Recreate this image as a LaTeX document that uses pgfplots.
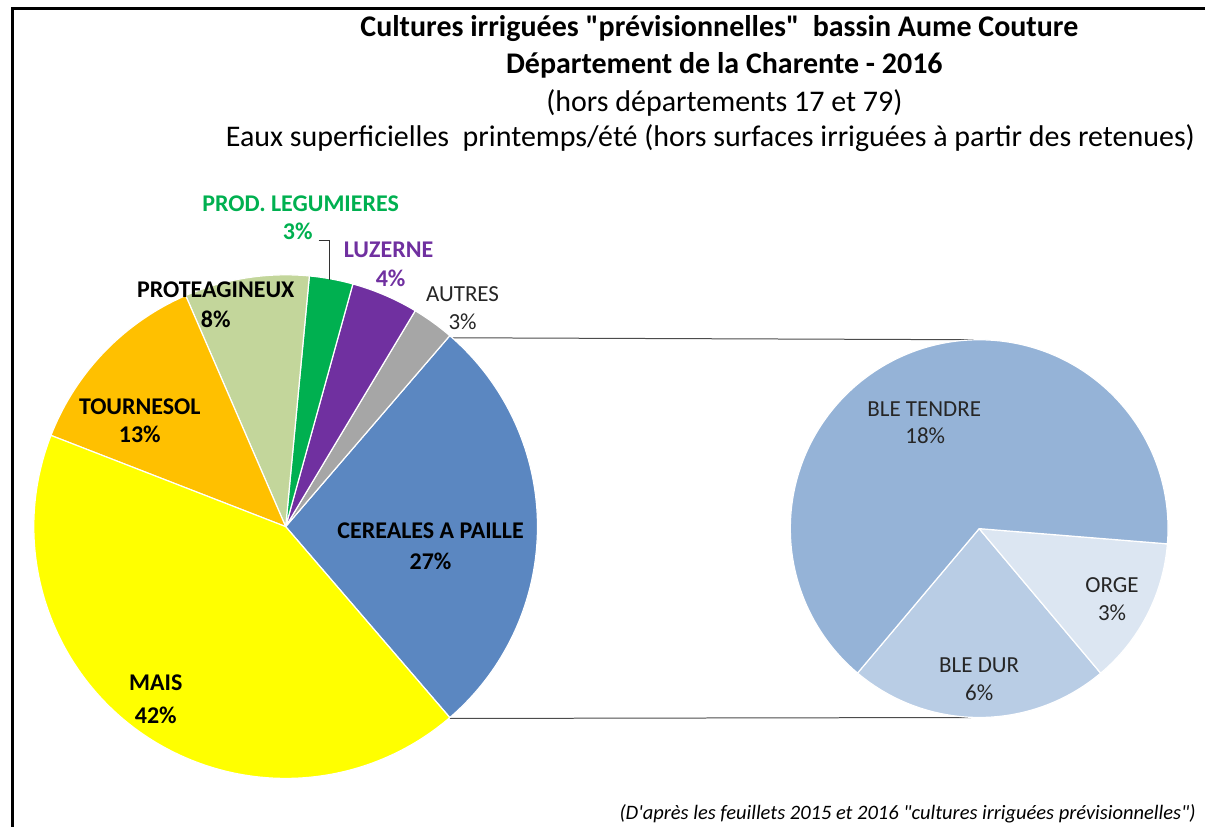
\documentclass[border=0pt]{standalone}
\usepackage{pgfplots}
\usepackage{pgfplotstable}
\pgfplotsset{compat=1.18}
\usepackage{fontspec}
\setmainfont{Carlito}[Ligatures=TeXOff]

\definecolor{cCer}{HTML}{5B87C1}
\definecolor{cAut}{HTML}{A6A6A6}
\definecolor{cLuz}{HTML}{7030A0}
\definecolor{cLeg}{HTML}{00B050}
\definecolor{cPro}{HTML}{C3D69B}
\definecolor{cTou}{HTML}{FFC000}
\definecolor{cMai}{HTML}{FFFF00}
\definecolor{cBT}{HTML}{95B3D7}
\definecolor{cOr}{HTML}{DCE6F2}
\definecolor{cBD}{HTML}{B9CDE5}
\definecolor{txtgray}{HTML}{262626}

% main pie (percent of total), counter-clockwise from -49.3 deg
\pgfplotstableread{
name       value color
Cereales   27.4  cCer
Autres     2.7   cAut
Luzerne    4.3   cLuz
ProdLeg    2.8   cLeg
Proteag    8.0   cPro
Tournesol  12.6  cTou
Mais       42.2  cMai
}\maindata

% secondary pie (detail of cereales a paille)
\pgfplotstableread{
name       value color
BleDur     6.1   cBD
Orge       3.45  cOr
BleTendre  17.85 cBT
}\subdata

% #1 table, #2 cx, #3 cy, #4 radius (pt), #5 start angle, #6 total
\newcommand{\drawpie}[6]{%
  \pgfplotstablegetrowsof{#1}%
  \pgfmathtruncatemacro\npie{\pgfplotsretval-1}%
  \pgfmathsetmacro\startang{#5}%
  \pgfplotsforeachungrouped \i in {0,...,\npie}{%
    \pgfplotstablegetelem{\i}{value}\of{#1}\let\pieval\pgfplotsretval
    \pgfplotstablegetelem{\i}{color}\of{#1}\let\piecol\pgfplotsretval
    \pgfmathsetmacro\endang{\startang+360*\pieval/#6}%
    \edef\temp{\noexpand\fill[\piecol, draw=white, line width=1.2pt, line join=round]
      (axis cs:#2,#3) -- ++(\startang:#4pt) arc[start angle=\startang, end angle=\endang, radius=#4pt] -- cycle;}%
    \temp
    \global\let\startang\endang
  }%
}
\newcommand{\q}{{\char34}}

\begin{document}
\begin{tikzpicture}
\begin{axis}[
  width=1205pt, height=821pt, scale only axis,
  xmin=0, xmax=1205, ymin=0, ymax=821, y dir=reverse,
  hide axis, clip=false, enlargelimits=false]
\path (axis cs:0,0) rectangle (axis cs:1205,821);
% frame
\draw[overlay, line width=3pt] (axis cs:1230,9) -- (axis cs:12,9) -- (axis cs:12,850);

% title
\node[anchor=base, font=\fontsize{30}{35}\selectfont\bfseries] at (axis cs:719,37) {Cultures irriguées \q prévisionnelles\q\ \ bassin Aume Couture};
\node[anchor=base, font=\fontsize{30}{35}\selectfont\bfseries] at (axis cs:724,74) {Département de la Charente - 2016};
\node[anchor=base, font=\fontsize{30}{35}\selectfont] at (axis cs:724,112) {(hors départements 17 et 79)};
\node[anchor=base, font=\fontsize{30}{35}\selectfont] at (axis cs:710,147) {Eaux superficielles\ \ printemps/été (hors surfaces irriguées à partir des retenues)};

% connector lines
\draw[black!70, line width=1pt] (axis cs:448,338) -- (axis cs:979,340);
\draw[black!70, line width=1pt] (axis cs:449,719) -- (axis cs:979,718);

\drawpie{\maindata}{285}{527}{252}{-49.32}{100}
\drawpie{\subdata}{979}{529}{189}{-130.1}{27.4}

% leader line
\draw[black!80, line width=0.8pt] (axis cs:318,241) -- (axis cs:329,241) -- (axis cs:329,280);

% main labels
\tikzset{lb/.style={anchor=base, font=\fontsize{24}{28}\selectfont\bfseries}}
\node[lb] at (axis cs:430,539) {CEREALES A PAILLE};
\node[lb] at (axis cs:430,570) {27\%};
\node[lb] at (axis cs:155,691) {MAIS};
\node[lb] at (axis cs:155,724) {42\%};
\node[lb] at (axis cs:139,415) {TOURNESOL};
\node[lb] at (axis cs:139,443) {13\%};
\node[lb] at (axis cs:215,298) {PROTEAGINEUX};
\node[lb] at (axis cs:215,328) {8\%};
\node[lb, text=cLeg] at (axis cs:300,212) {PROD. LEGUMIERES};
\node[lb, text=cLeg] at (axis cs:297,240) {3\%};
\node[lb, text=cLuz] at (axis cs:388,258) {LUZERNE};
\node[lb, text=cLuz] at (axis cs:390,287) {4\%};
\tikzset{lr/.style={anchor=base, font=\fontsize{23}{27}\selectfont, text=txtgray}}
\node[lr] at (axis cs:462,302) {AUTRES};
\node[lr] at (axis cs:462,330) {3\%};
\node[lr] at (axis cs:924,417) {BLE TENDRE};
\node[lr] at (axis cs:925,444) {18\%};
\node[lr] at (axis cs:1112,593) {ORGE};
\node[lr] at (axis cs:1112,621) {3\%};
\node[lr] at (axis cs:979,673) {BLE DUR};
\node[lr] at (axis cs:979,701) {6\%};

% footer
\node[anchor=base east, font=\fontsize{20.5}{24}\selectfont\itshape] at (axis cs:1199,820) {(D'après les feuillets 2015 et 2016 \q cultures irriguées prévisionnelles\q)};
\end{axis}
\end{tikzpicture}
\end{document}
